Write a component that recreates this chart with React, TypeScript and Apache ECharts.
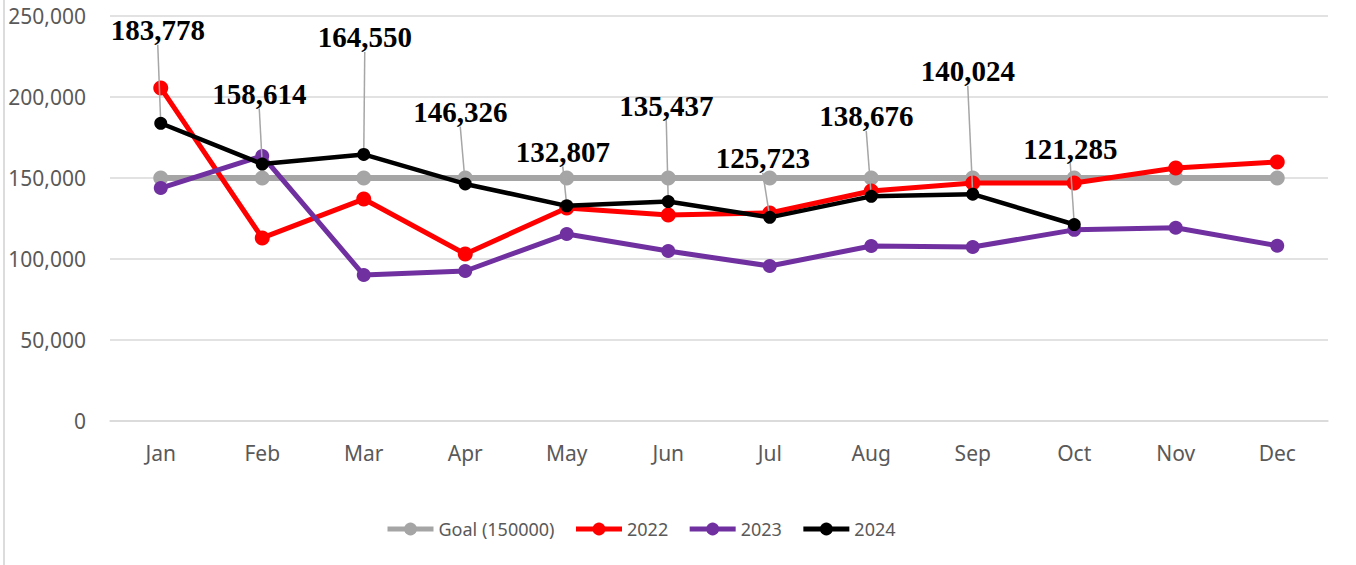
import React, { useEffect, useRef } from "react";
import * as echarts from "echarts";

const months = ["Jan", "Feb", "Mar", "Apr", "May", "Jun", "Jul", "Aug", "Sep", "Oct", "Nov", "Dec"];
const goal = [150000, 150000, 150000, 150000, 150000, 150000, 150000, 150000, 150000, 150000, 150000, 150000];
const y2022 = [205600, 113000, 137000, 103100, 131500, 127200, 128400, 142000, 146900, 146900, 156200, 159900];
const y2023 = [143800, 163600, 90100, 92600, 115400, 104900, 95700, 108000, 107400, 118000, 119300, 108200];
const y2024 = [183778, 158614, 164550, 146326, 132807, 135437, 125723, 138676, 140024, 121285];
const yTicks = { min: 0, max: 250000, interval: 50000 };

// label offsets (pixels, label centre relative to point centre) for 2024 data labels
const labelOffsets: [number, number][] = [
  [-3, -93], [-3, -70], [1, -117], [-5, -72], [-4, -54],
  [-2, -96], [-7, -59], [-5, -80], [-5, -123], [-4, -76],
];

export default function App() {
  const ref = useRef<HTMLDivElement>(null);
  useEffect(() => {
    if (!ref.current) return;
    const chart = echarts.init(ref.current, undefined, { renderer: "svg" });
    const axisFont = { fontFamily: "Noto Sans", fontSize: 21, color: "#595959" };
    const mk = (name: string, data: number[], color: string, width: number, size: number, z: number) => ({
      name,
      type: "line",
      data,
      z,
      symbol: "circle",
      symbolSize: size,
      itemStyle: { color },
      lineStyle: { color, width },
      emphasis: { disabled: true },
    });
    chart.setOption({
      animation: false,
      grid: { left: 110, right: 28, top: 16, bottom: 144 },
      legend: {
        left: 385,
        top: 518,
        padding: 0,
        itemWidth: 46,
        itemHeight: 16,
        itemGap: 19,
        lineStyle: { width: 5 },
        textStyle: { fontFamily: "Noto Sans", fontSize: 18, color: "#595959", lineHeight: 22 },
        data: ["Goal (150000)", "2022", "2023", "2024"],
      },
      xAxis: {
        type: "category",
        data: months,
        boundaryGap: true,
        axisLine: { lineStyle: { color: "#D9D9D9", width: 1.5 } },
        axisTick: { show: false },
        axisLabel: { ...axisFont, margin: 21 },
      },
      yAxis: {
        type: "value",
        min: yTicks.min,
        max: yTicks.max,
        interval: yTicks.interval,
        axisLine: { show: false },
        axisTick: { show: false },
        splitLine: { lineStyle: { color: "#D9D9D9", width: 1.5 } },
        axisLabel: {
          ...axisFont,
          margin: 24,
          formatter: (v: number) => v.toLocaleString("en-US"),
        },
      },
      graphic: [
        {
          type: "line",
          shape: { x1: 4, y1: 0, x2: 4, y2: 565 },
          style: { stroke: "#D0D0D0", lineWidth: 1.5 },
        },
      ],
      series: [
        mk("Goal (150000)", goal, "#A5A5A5", 6, 15, 2),
        mk("2022", y2022, "#FF0000", 5, 15, 3),
        mk("2023", y2023, "#7030A0", 5, 14, 4),
        {
          ...mk("2024", y2024, "#000000", 4.5, 13, 5),
          label: {
            show: true,
            position: "top",
            fontFamily: "Liberation Serif",
            fontWeight: "bold",
            fontSize: 29,
            color: "#000000",
            formatter: (p: any) => Number(p.value).toLocaleString("en-US"),
          },
          labelLine: { show: true, lineStyle: { color: "#A6A6A6", width: 1.5 } },
          labelLayout: (p: any) => {
            const o = labelOffsets[p.dataIndex] || [0, -40];
            const cx = p.rect.x + p.rect.width / 2;
            const cy = p.rect.y + p.rect.height / 2;
            return {
              x: cx + o[0] - p.labelRect.width / 2,
              y: cy + o[1] - p.labelRect.height / 2,
              align: "left",
              verticalAlign: "top",
            };
          },
        },
      ],
    });
    return () => chart.dispose();
  }, []);
  return <div ref={ref} style={{ width: 1356, height: 565, position: "absolute", left: 0, top: 0 }} />;
}
